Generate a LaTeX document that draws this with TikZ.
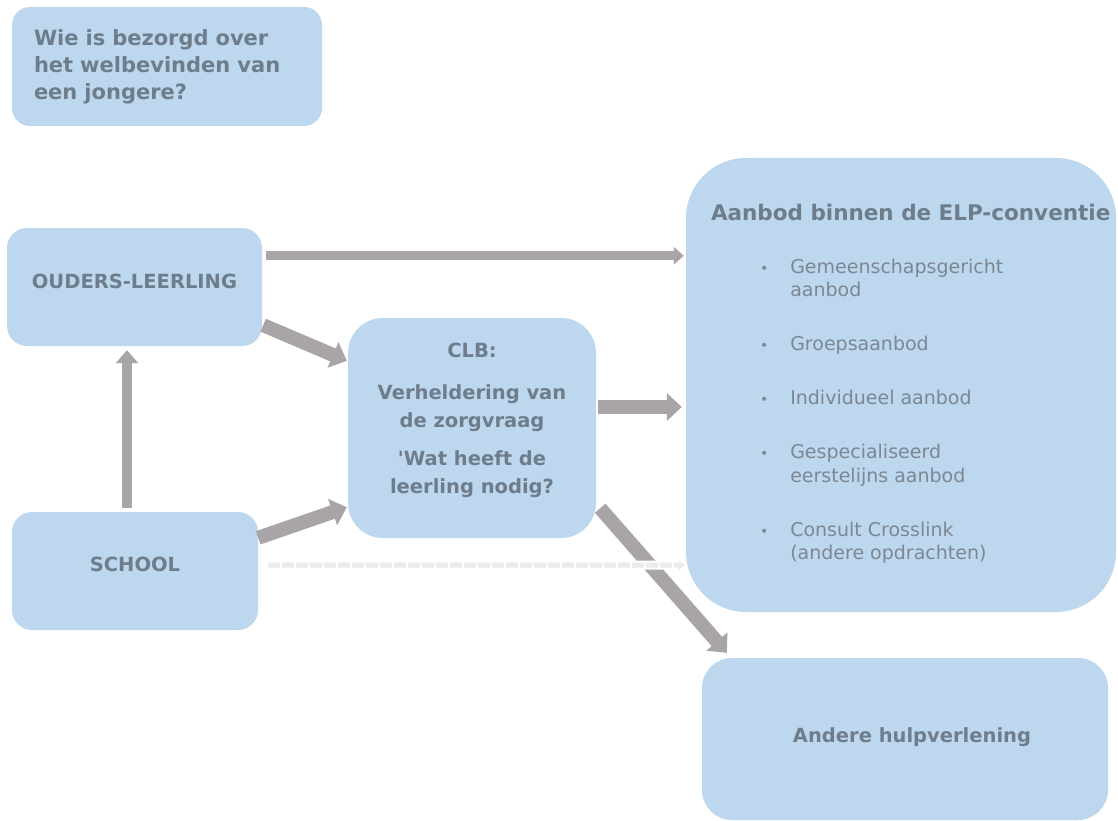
\documentclass[tikz,border=0pt]{standalone}
\usepackage{fontspec}
\setmainfont{DejaVu Sans}
\usetikzlibrary{arrows.meta}
\definecolor{boxblue}{HTML}{BDD7EE}
\definecolor{txtgray}{HTML}{6E7D8C}
\definecolor{listgray}{HTML}{7C8794}
\definecolor{arrgray}{HTML}{A8A4A7}
\definecolor{faintgray}{HTML}{ECEAEB}
\tikzset{
  box/.style={fill=boxblue,draw=none,text=txtgray,inner sep=0pt},
  arr/.style={draw=arrgray,line width=14pt,-{Triangle[width=27pt,length=15pt]}},
  arrthin/.style={draw=arrgray,line width=9pt,-{Triangle[width=17pt,length=10pt]}},
}

\begin{document}
\begin{tikzpicture}[x=1pt,y=-1pt]
\useasboundingbox[fill=white] (0,0) rectangle (1118,821);

% boxes
\node[box,minimum width=310pt,minimum height=119pt,rounded corners=18pt,text width=266pt,align=left,
  font=\fontsize{21}{27}\selectfont\bfseries] (ask) at (167,66.5)
  {Wie is bezorgd over\\het welbevinden van\\een jongere?};
\node[box,minimum width=255pt,minimum height=118pt,rounded corners=20pt,text height=14pt,text depth=12pt,
  font=\fontsize{19.5}{23}\selectfont\bfseries] (ouders) at (134.5,287) {OUDERS-LEERLING};
\node[box,minimum width=246pt,minimum height=118pt,rounded corners=20pt,text height=14pt,text depth=13pt,
  font=\fontsize{19.5}{23}\selectfont\bfseries] (school) at (135,571) {SCHOOL};
\node[box,minimum width=248pt,minimum height=220pt,rounded corners=35pt,align=center,
  font=\fontsize{19.5}{28}\selectfont\bfseries] (clb) at (472,428)
  {CLB:\\[14pt]Verheldering van\\de zorgvraag\\[10pt]\textquotesingle Wat heeft de\\leerling nodig?\\[-9pt]\mbox{}};
\node[box,minimum width=430pt,minimum height=454pt,rounded corners=60pt] (elp) at (901,385) {};
\node[box,minimum width=406pt,minimum height=162pt,rounded corners=30pt,text height=14pt,text depth=7pt,
  font=\fontsize{19.5}{23}\selectfont\bfseries] (andere) at (905,739) {\hspace{14pt}Andere hulpverlening};

% inhoud van het aanbod
\node[text=txtgray,anchor=west,inner sep=0pt,font=\fontsize{21.5}{25}\selectfont\bfseries] (elptitle)
  at ([shift={(25,55)}]elp.north west) {Aanbod binnen de ELP-conventie};
\node[text=listgray,anchor=north west,inner sep=0pt,font=\fontsize{19}{23.5}\selectfont] (elplist)
  at ([shift={(74,99)}]elp.north west) {%
  \begin{tabular}{@{}l@{\hspace{22pt}}l@{}}
  {\fontsize{14}{14}\selectfont\textbullet} & Gemeenschapsgericht\\ & aanbod\\[30.5pt]
  {\fontsize{14}{14}\selectfont\textbullet} & Groepsaanbod\\[30.5pt]
  {\fontsize{14}{14}\selectfont\textbullet} & Individueel aanbod\\[30.5pt]
  {\fontsize{14}{14}\selectfont\textbullet} & Gespecialiseerd\\ & eerstelijns aanbod\\[30.5pt]
  {\fontsize{14}{14}\selectfont\textbullet} & Consult Crosslink\\ & (andere opdrachten)
  \end{tabular}};

% pijlen
\draw[arrthin] ([shift={(4,28)}]ouders.north east) -- ([shift={(-2,98)}]elp.north west);
\draw[arr] ([shift={(1,-21)}]ouders.south east) -- ([shift={(-1,43)}]clb.north west);
\draw[arr,line width=10pt,-{Triangle[width=22pt,length=13pt]}] ([shift={(-8,-4)}]school.north) -- ([shift={(-7.5,4)}]ouders.south);
\draw[arr] ([shift={(0,26)}]school.north east) -- ([shift={(-1,-31)}]clb.south west);
\draw[arr] ([shift={(2,-21)}]clb.east) -- ([shift={(-4,22)}]elp.west);
\draw[arr] ([shift={(4,-30)}]clb.south east) -- ([shift={(25,-5)}]andere.north west);
\draw[draw=faintgray,line width=5pt,dash pattern=on 12pt off 2pt,-{Triangle[width=10pt,length=6pt]},
  preaction={draw=white,line width=9pt,dash pattern=on 1000pt off 0pt}]
  ([shift={(10,-6)}]school.east) -- ([shift={(-1,-47)}]elp.south west);
\end{tikzpicture}
\end{document}
